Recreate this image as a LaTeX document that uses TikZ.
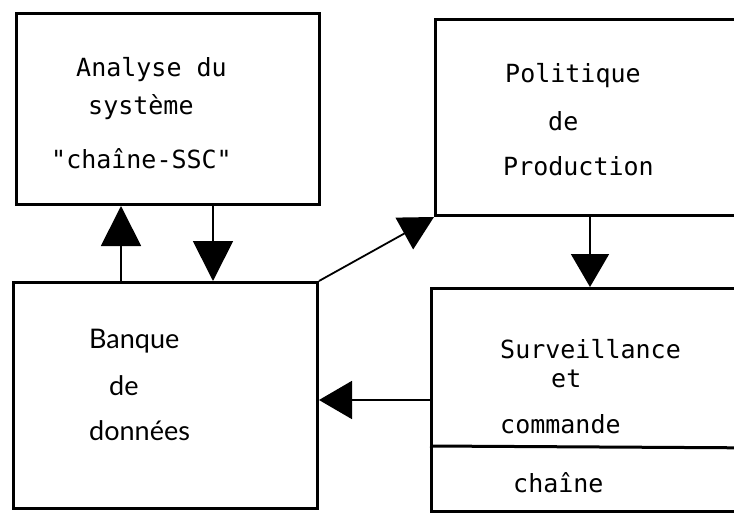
\documentclass[tikz,border=0pt]{standalone}
\usepackage{fontspec}
\newfontfamily\monof{DejaVu Sans Mono}
\newfontfamily\sansf{Lato}
\usetikzlibrary{arrows.meta,calc}
\begin{document}
\begin{tikzpicture}[x=1pt,y=-1pt,
  box/.style={draw,line width=3pt,inner sep=0pt},
  mtxt/.style={anchor=base west,inner sep=0pt,font=\monof\fontsize{25}{29}\selectfont},
  stxt/.style={anchor=base west,inner sep=0pt,font=\sansf\fontsize{27}{31}\selectfont},
  conn/.style={line width=1.8pt},
  bigtip/.style={-{Triangle[length=40pt,width=40pt]}},
  midtip/.style={-{Triangle[length=33pt,width=38pt]}}]
\useasboundingbox (0,0) rectangle (734,519);
\clip (0,0) rectangle (734,519);
% boxes
\node[box,minimum width=303pt,minimum height=191pt,anchor=north west] (analyse) at (15,12) {};
\node[box,minimum width=304pt,minimum height=226pt,anchor=north west] (banque) at (12,281) {};
\node[box,minimum width=340pt,minimum height=196pt,anchor=north west] (politique) at (434,18) {};
\node[box,minimum width=340pt,minimum height=223pt,anchor=north west] (surv) at (430,287) {};
\coordinate (divL) at (430,446);
\coordinate (divR) at (770,448);
\draw[line width=3pt] (divL) -- (divR);
% texts
\node[mtxt] (t1) at (76,77) {Analyse du};
\node[mtxt] (t2) at (88,114) {système};
\node[mtxt] (t3) at (51,168) {"chaîne-SSC"};
\node[mtxt] (t4) at (505,83) {Politique};
\node[mtxt] (t5) at (548,130) {de};
\node[mtxt] (t6) at (503,175) {Production};
\node[mtxt] (t7) at (500,358) {Surveillance};
\node[mtxt] (t8) at (551,387) {et};
\node[mtxt] (t9) at (500,433) {commande};
\node[mtxt] (t10) at (513,492) {chaîne};
\node[stxt] (t11) at (89,348) {Banque};
\node[stxt] (t12) at (109,395) {de};
\node[stxt] (t13) at (89,440) {données};
% connectors
\coordinate (xa) at (121,0);
\coordinate (xb) at (213,0);
\coordinate (xc) at (590,0);
\coordinate (ya) at (0,400);
\draw[conn,bigtip] (banque.north -| xa) -- (analyse.south -| xa);
\draw[conn,bigtip] (analyse.south -| xb) -- (banque.north -| xb);
\draw[conn,midtip] (politique.south -| xc) -- (surv.north -| xc);
\draw[conn,midtip] (surv.west |- ya) -- (banque.east |- ya);
\draw[conn,-{Triangle[length=34pt,width=36pt]}] (banque.north east) -- (politique.south west);
\end{tikzpicture}
\end{document}
